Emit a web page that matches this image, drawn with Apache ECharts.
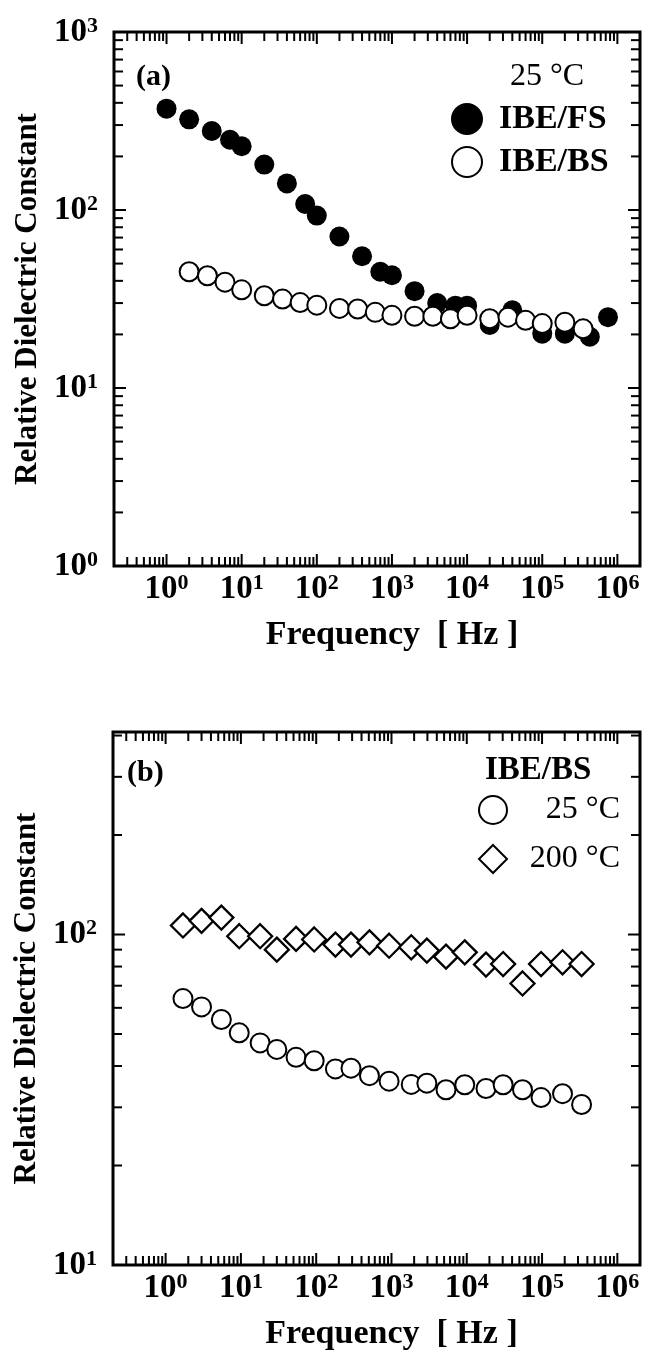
<!DOCTYPE html>
<html>
<head>
<meta charset="utf-8">
<script src="https://cdn.jsdelivr.net/npm/echarts@6/dist/echarts.min.js"></script>
<style>
  html, body { margin: 0; padding: 0; background: #fff; }
  #chart { width: 653px; height: 1355px; }
</style>
</head>
<body>
<div id="chart"></div>
<script>
// ---- Panel (a): 25 °C, IBE/FS and IBE/BS ----
const freqFS = [1, 2, 4, 7, 10, 20, 40, 70, 100, 200, 400, 700, 1000, 2000, 4000, 7000, 10000, 20000, 40000, 100000, 200000, 430000, 750000];
const epsFS  = [371, 323, 278, 248, 228, 180, 141, 108, 93, 71, 55, 45, 43, 35, 30, 29, 29, 22.6, 27.3, 20.2, 20.2, 19.4, 25];

const freqBS = [2, 3.5, 6, 10, 20, 35, 60, 100, 200, 350, 600, 1000, 2000, 3500, 6000, 10000, 20000, 35000, 60000, 100000, 200000, 350000];
const epsBS  = [45, 42.7, 39.3, 35.6, 33, 31.6, 30.2, 29.2, 28, 27.8, 26.6, 25.6, 25.3, 25.3, 24.5, 25.6, 24.5, 25, 24, 23, 23.4, 21.5];

// ---- Panel (b): IBE/BS at 25 °C and 200 °C ----
const freqB   = [1.7, 3, 5.5, 9.5, 18, 30, 54, 94, 180, 290, 510, 930, 1830, 2950, 5300, 9400, 18000, 30400, 55000, 97000, 187000, 335000];
const eps25C  = [64, 60.4, 55.3, 50.4, 47, 44.9, 42.5, 41.5, 39.2, 39.4, 37.4, 36, 35.2, 35.5, 33.9, 35.1, 34.2, 35.1, 33.9, 32.1, 33, 30.6];
const eps200C = [106.5, 110, 112.5, 98.8, 98.8, 90, 97, 96.6, 93.2, 93.2, 94.7, 92.5, 91.5, 89.4, 85.7, 88.3, 81.1, 81.4, 71.1, 81.4, 82.4, 81.4];

// ---- Axis ranges and labelled decades ----
const xRange  = [0.2, 2e6];
const yRangeA = [1, 1000];
const yRangeB = [10, 410];
const xLabelExps  = [0, 1, 2, 3, 4, 5, 6];
const yLabelExpsA = [0, 1, 2, 3];
const yLabelExpsB = [1, 2];

const SERIF = "'Liberation Serif', 'DejaVu Serif', serif";
const zip = (xs, ys) => xs.map((x, i) => [x, ys[i]]);

const powRich = {
  b: { fontFamily: SERIF, fontWeight: 'bold', fontSize: 33, color: '#000', lineHeight: 34 },
  s: { fontFamily: SERIF, fontWeight: 'bold', fontSize: 22, color: '#000', lineHeight: 20, verticalAlign: 'top' }
};
function powLabel(exps) {
  return function (v) {
    const e = Math.log10(v);
    const r = Math.round(e);
    if (Math.abs(e - r) > 1e-6 || exps.indexOf(r) < 0) return '';
    return '{b|10}{s|' + r + '}';
  };
}

// tick values k*10^n inside (min, max)
function logTicks(min, max) {
  const out = [];
  for (let e = Math.floor(Math.log10(min)); e <= Math.ceil(Math.log10(max)); e++) {
    for (let k = 1; k <= 9; k++) {
      const v = k * Math.pow(10, e);
      if (v > min * 1.0001 && v < max * 0.9999) out.push({ v: v, major: k === 1 });
    }
  }
  return out;
}

// inward ticks on all four sides of a frame
function frameTicks(xr, yr) {
  const xt = logTicks(xr[0], xr[1]);
  const yt = logTicks(yr[0], yr[1]);
  const MAJOR = 12, MINOR = 9, W = 2;
  return function (params, api) {
    const children = [];
    const line = (x1, y1, x2, y2) => children.push({
      type: 'line', shape: { x1, y1, x2, y2 }, style: { stroke: '#000', lineWidth: W }
    });
    xt.forEach(t => {
      const len = t.major ? MAJOR : MINOR;
      const b = api.coord([t.v, yr[0]]);
      const tp = api.coord([t.v, yr[1]]);
      line(b[0], b[1], b[0], b[1] - len);
      line(tp[0], tp[1], tp[0], tp[1] + len);
    });
    yt.forEach(t => {
      const len = t.major ? MAJOR : MINOR;
      const l = api.coord([xr[0], t.v]);
      const r = api.coord([xr[1], t.v]);
      line(l[0], l[1], l[0] + len, l[1]);
      line(r[0], r[1], r[0] - len, r[1]);
    });
    return { type: 'group', children: children };
  };
}

function xAxisFor(gridIndex) {
  return {
    type: 'log', logBase: 10, gridIndex: gridIndex,
    min: xRange[0], max: xRange[1],
    axisLine: { show: false }, axisTick: { show: false }, splitLine: { show: false },
    axisLabel: { formatter: powLabel(xLabelExps), rich: powRich, margin: 6, interval: 0, hideOverlap: false },
    name: 'Frequency  [ Hz ]', nameLocation: 'middle', nameGap: 52,
    nameTextStyle: { fontFamily: SERIF, fontWeight: 'bold', fontSize: 34, color: '#000', padding: [0, 0, 0, 30] }
  };
}
function yAxisFor(gridIndex, yr, exps) {
  return {
    type: 'log', logBase: 10, gridIndex: gridIndex,
    min: yr[0], max: yr[1],
    axisLine: { show: false }, axisTick: { show: false }, splitLine: { show: false },
    axisLabel: { formatter: powLabel(exps), rich: powRich, margin: 16, interval: 0, hideOverlap: false },
    name: 'Relative Dielectric Constant', nameLocation: 'middle', nameGap: 70,
    nameTextStyle: { fontFamily: SERIF, fontWeight: 'bold', fontSize: 31, color: '#000' }
  };
}

const openStyle = { color: '#fff', borderColor: '#000', borderWidth: 2, opacity: 1 };

const option = {
  animation: false,
  backgroundColor: '#fff',
  grid: [
    { left: 114, top: 32, width: 526, height: 534, show: true, borderColor: '#000', borderWidth: 3, backgroundColor: 'transparent' },
    { left: 113, top: 732, width: 527, height: 533, show: true, borderColor: '#000', borderWidth: 3, backgroundColor: 'transparent' }
  ],
  xAxis: [xAxisFor(0), xAxisFor(1)],
  yAxis: [yAxisFor(0, yRangeA, yLabelExpsA), yAxisFor(1, yRangeB, yLabelExpsB)],
  legend: [
    {
      orient: 'vertical', left: 446, top: 97, itemWidth: 30, itemHeight: 30, itemGap: 9,
      selectedMode: false, data: ['IBE/FS', 'IBE/BS'],
      itemStyle: { borderColor: '#000', borderWidth: 2, opacity: 1 },
      formatter: name => '{t|' + name + '}',
      textStyle: { rich: { t: { fontFamily: SERIF, fontWeight: 'bold', fontSize: 34, lineHeight: 30, color: '#000', padding: [0, 0, 0, 12] } } }
    },
    {
      orient: 'vertical', left: 473, top: 789, itemWidth: 28, itemHeight: 28, itemGap: 17,
      selectedMode: false, data: ['25 °C', '200 °C'],
      itemStyle: { borderColor: '#000', borderWidth: 2, opacity: 1 },
      formatter: name => '{t|' + name + '}',
      textStyle: { rich: { t: { fontFamily: SERIF, fontSize: 32, lineHeight: 28, color: '#000', width: 108, align: 'right' } } }
    }
  ],
  graphic: [
    { type: 'text', left: 136, top: 62, style: { text: '(a)', font: "bold 30px 'Liberation Serif', serif", fill: '#000' } },
    { type: 'text', left: 510, top: 61, style: { text: '25 °C', font: "32px 'Liberation Serif', serif", fill: '#000' } },
    { type: 'text', left: 127, top: 758, style: { text: '(b)', font: "bold 30px 'Liberation Serif', serif", fill: '#000' } },
    { type: 'text', left: 485, top: 754, style: { text: 'IBE/BS', font: "bold 33px 'Liberation Serif', serif", fill: '#000' } }
  ],
  series: [
    { type: 'custom', xAxisIndex: 0, yAxisIndex: 0, silent: true, data: [[1, 1]], renderItem: frameTicks(xRange, yRangeA), z: 1 },
    { type: 'custom', xAxisIndex: 1, yAxisIndex: 1, silent: true, data: [[1, 10]], renderItem: frameTicks(xRange, yRangeB), z: 1 },
    { name: 'IBE/FS', type: 'scatter', xAxisIndex: 0, yAxisIndex: 0, symbol: 'circle', symbolSize: 20,
      itemStyle: { color: '#000', opacity: 1 }, data: zip(freqFS, epsFS), z: 2 },
    { name: 'IBE/BS', type: 'scatter', xAxisIndex: 0, yAxisIndex: 0, symbol: 'circle', symbolSize: 19,
      itemStyle: openStyle, data: zip(freqBS, epsBS), z: 3 },
    { name: '25 °C', type: 'scatter', xAxisIndex: 1, yAxisIndex: 1, symbol: 'circle', symbolSize: 19,
      itemStyle: openStyle, data: zip(freqB, eps25C), z: 3 },
    { name: '200 °C', type: 'scatter', xAxisIndex: 1, yAxisIndex: 1, symbol: 'diamond', symbolSize: 24,
      itemStyle: { color: '#fff', borderColor: '#000', borderWidth: 2.3, opacity: 1 }, data: zip(freqB, eps200C), z: 3 }
  ]
};

const chart = echarts.init(document.getElementById('chart'), null, { renderer: 'canvas' });
chart.setOption(option);
</script>
</body>
</html>
